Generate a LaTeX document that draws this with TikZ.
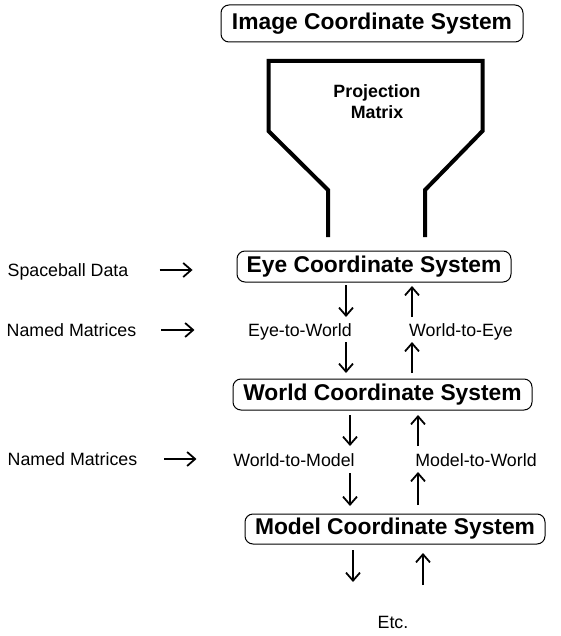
\documentclass[tikz,border=0pt]{standalone}
\usepackage{fontspec}
\setmainfont{Liberation Sans}
\usetikzlibrary{arrows.meta}
\tikzset{
  coordsys/.style={draw,rounded corners=8pt,line width=1pt,inner sep=0pt,minimum height=31pt,font=\bfseries\fontsize{22.8}{26}\selectfont},
  lbl/.style={inner sep=0pt,text height=12.8pt,text depth=0pt,font=\fontsize{17.8}{21}\selectfont},
  flow/.style={-{Straight Barb[length=8pt,width=14pt]},line width=1.8pt}
}
\begin{document}
\begin{tikzpicture}[x=1pt,y=-1pt]
\useasboundingbox (0,0) rectangle (560,636);
\node[coordsys,minimum width=302pt,minimum height=37pt] (img) at (372,23.5) {Image Coordinate System};
\draw[line width=4pt] (328,237)--(328,190)--(268.5,131)--(268.5,61)--(482.5,61)--(482.5,131)--(425,190)--(425,237);
\node[inner sep=0pt,align=center,font=\bfseries\fontsize{17.8}{21}\selectfont] (proj) at (377,101.5) {Projection\\Matrix};
\node[coordsys,minimum width=274pt] (eye) at (374,266.5) {Eye Coordinate System};
\node[coordsys,minimum width=299pt] (world) at (382.5,394.5) {World Coordinate System};
\node[coordsys,minimum width=300pt,minimum height=30pt] (model) at (395,529) {Model Coordinate System};
\node[lbl] (e2w) at (300,330) {Eye-to-World};
\node[lbl] (w2e) at (461,330) {World-to-Eye};
\node[lbl] (w2m) at (294,460) {World-to-Model};
\node[lbl] (m2w) at (476,460) {Model-to-World};
\node[lbl] (etc) at (393,622) {Etc.};
\node[lbl] (sball) at (68,270) {Spaceball Data};
\node[lbl] (named1) at (71.5,330) {Named Matrices};
\node[lbl] (named2) at (72.5,459) {Named Matrices};
\foreach \n/\x/\a/\b in {ew1/346/285/317,ew2/346/342/373,we1/412/317/286,we2/412/373/342,
    wm1/350/415/446,wm2/350/473/506,mw1/418/446/415,mw2/418/505/472,md/353/550/582,mu/423/585/553}{
  \coordinate (\n-from) at (\x,\a);
  \coordinate (\n-to) at (\x,\b);
  \draw[flow] (\n-from) -- (\n-to);
}
\draw[flow] ([xshift=31pt]sball.east) -- ++(33,0);
\draw[flow] ([xshift=25pt]named1.east) -- ++(33,0);
\draw[flow] ([xshift=27pt]named2.east) -- ++(32,0);
\end{tikzpicture}
\end{document}
